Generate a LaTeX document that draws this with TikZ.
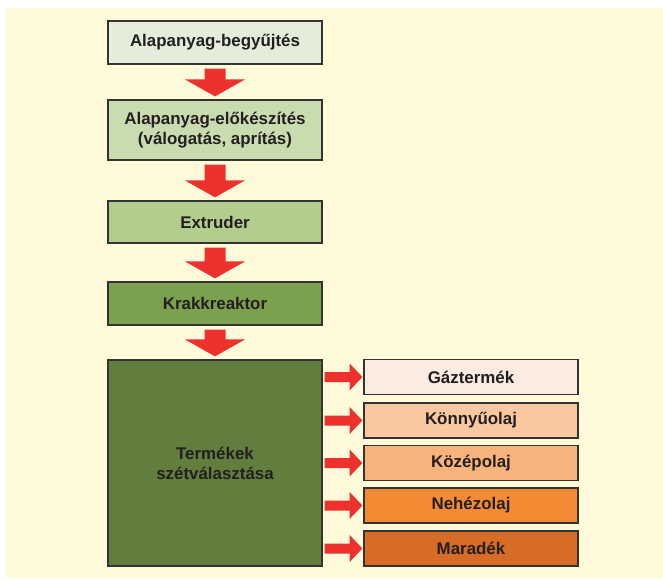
\documentclass[tikz,border=0pt]{standalone}
\usepackage{fontspec}
\setmainfont{Liberation Sans}
\usetikzlibrary{calc}
\definecolor{cream}{HTML}{FFFADA}
\definecolor{boxline}{HTML}{333333}
\definecolor{txt}{HTML}{231F20}
\definecolor{arrowred}{HTML}{ED322D}
\definecolor{g1}{HTML}{E3EDDA}
\definecolor{g2}{HTML}{C8DCB0}
\definecolor{g3}{HTML}{B3CD8F}
\definecolor{g4}{HTML}{7BA04E}
\definecolor{g5}{HTML}{627E3E}
\definecolor{o1}{HTML}{FBEBE0}
\definecolor{o2}{HTML}{FAC8A0}
\definecolor{o3}{HTML}{F8B27C}
\definecolor{o4}{HTML}{F38A34}
\definecolor{o5}{HTML}{D66C25}
\newcommand\fatarrowdown[2]{%
  \fill[arrowred] ($(#1.south)+(-10.5,4)$) -- ($(#1.south)+(10.5,4)$)
    -- ($(#2.north)+(10.5,-20)$) -- ($(#2.north)+(30,-20)$)
    -- ($(#2.north)+(0,-3)$) -- ($(#2.north)+(-30,-20)$)
    -- ($(#2.north)+(-10.5,-20)$) -- cycle;}
\newcommand\fatarrowright[2]{%
  \fill[arrowred] ($(#1.east |- #2.west)+(2,-5)$) -- ($(#1.east |- #2.west)+(27,-5)$)
    -- ($(#1.east |- #2.west)+(27,-13.5)$) -- ($(#2.west)+(-1,0)$)
    -- ($(#1.east |- #2.west)+(27,13.5)$) -- ($(#1.east |- #2.west)+(27,5)$)
    -- ($(#1.east |- #2.west)+(2,5)$) -- cycle;}
\begin{document}
\begin{tikzpicture}[x=1pt,y=-1pt,
  box/.style={draw=boxline, line width=1.2pt, text=txt,
    font=\bfseries\fontsize{16.9}{20}\selectfont, align=center,
    inner sep=0pt, minimum width=214pt}]
\fill[white] (0,0) rectangle (663,578);
\fill[cream] (6,8) rectangle (663,578);
\useasboundingbox (0,0) rectangle (663,578);
\node[box, fill=g1, minimum height=43pt] (b1) at (215,42.5) {Alapanyag-begyűjtés};
\node[box, fill=g2, minimum height=60pt] (b2) at (215,130) {Alapanyag-előkészítés\\(válogatás, aprítás)};
\node[box, fill=g3, minimum height=42pt] (b3) at (215,222) {Extruder};
\node[box, fill=g4, minimum height=43pt] (b4) at (215,303.5) {Krakkreaktor};
\node[box, fill=g5, minimum height=206pt] (b5) at (215,463) {Termékek\\szétválasztása};
\node[box, fill=o1, minimum height=35pt] (p1) at (471,377) {Gáztermék};
\node[box, fill=o2, minimum height=35pt] (p2) at (471,420.5) {Könnyűolaj};
\node[box, fill=o3, minimum height=35pt] (p3) at (471,463) {Középolaj};
\node[box, fill=o4, minimum height=35pt] (p4) at (471,505.5) {Nehézolaj};
\node[box, fill=o5, minimum height=35pt] (p5) at (471,548.5) {Maradék};
\fatarrowdown{b1}{b2}
\fatarrowdown{b2}{b3}
\fatarrowdown{b3}{b4}
\fatarrowdown{b4}{b5}
\fatarrowright{b5}{p1}
\fatarrowright{b5}{p2}
\fatarrowright{b5}{p3}
\fatarrowright{b5}{p4}
\fatarrowright{b5}{p5}
\end{tikzpicture}
\end{document}
